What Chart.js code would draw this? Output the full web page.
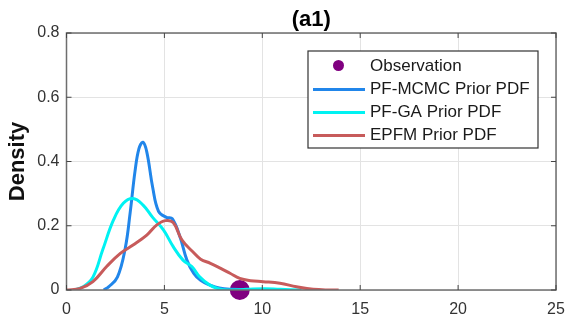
<!DOCTYPE html>
<html>
<head>
<meta charset="utf-8">
<script src="https://cdn.jsdelivr.net/npm/chart.js@4"></script>
<style>
  html, body { margin: 0; padding: 0; background: #fff; }
  #wrap { width: 567px; height: 325px; }
</style>
</head>
<body>
<div id="wrap"><canvas id="myChart" width="567" height="325"></canvas></div>
<script>
// Datos
const obsX = [8.85];
const obsY = [0];

const mcmcX = [1.9, 2.15, 2.6, 3.0, 3.25, 3.5, 3.7, 3.9, 4.1, 4.4, 4.7, 5.1, 5.4, 5.8, 6.15, 6.5, 6.85, 7.3, 7.8, 8.5, 9.5];
const mcmcY = [0, 0.01, 0.04, 0.13, 0.24, 0.37, 0.44, 0.46, 0.43, 0.32, 0.245, 0.226, 0.222, 0.165, 0.093, 0.052, 0.03, 0.016, 0.006, 0.002, 0];

const gaX = [0.4, 0.85, 1.35, 1.85, 2.4, 2.9, 3.4, 3.9, 4.4, 4.95, 5.45, 5.95, 6.4, 6.8, 7.3, 7.8, 8.3, 9.2, 10.1, 10.9, 12.0];
const gaY = [0, 0.01, 0.04, 0.125, 0.218, 0.27, 0.285, 0.265, 0.226, 0.187, 0.135, 0.093, 0.073, 0.041, 0.016, 0.003, 0, 0.002, 0.004, 0.002, 0];

const epfmX = [0, 0.7, 1.35, 2.05, 2.75, 3.4, 4.1, 4.6, 5.05, 5.45, 5.9, 6.45, 6.85, 7.35, 7.85, 8.35, 8.85, 9.4, 10.05, 10.9, 11.75, 12.6, 13.5, 13.9];
const epfmY = [0, 0.005, 0.026, 0.073, 0.114, 0.14, 0.171, 0.202, 0.216, 0.21, 0.155, 0.119, 0.096, 0.083, 0.068, 0.052, 0.036, 0.029, 0.026, 0.021, 0.01, 0.002, 0, 0];

const xTicks = [0, 5, 10, 15, 20, 25];
const yTicks = [0, 0.2, 0.4, 0.6, 0.8];

const toPoints = (xs, ys) => xs.map((x, i) => ({ x: x, y: ys[i] }));

// Caja estilo MATLAB con marcas hacia dentro + leyenda interior
const boxPlugin = {
    id: 'boxPlugin',
    afterDatasetsDraw(chart) {
        const { ctx, chartArea: a, scales } = chart;
        ctx.save();
        ctx.strokeStyle = '#6e6e6e';
        ctx.lineWidth = 1.5;
        ctx.strokeRect(a.left, a.top, a.right - a.left, a.bottom - a.top);
        ctx.lineWidth = 1;
        ctx.strokeStyle = '#444';
        xTicks.forEach(v => {
            const px = scales.x.getPixelForValue(v);
            ctx.beginPath();
            ctx.moveTo(px, a.bottom); ctx.lineTo(px, a.bottom - 5);
            ctx.moveTo(px, a.top); ctx.lineTo(px, a.top + 5);
            ctx.stroke();
        });
        yTicks.forEach(v => {
            const py = scales.y.getPixelForValue(v);
            ctx.beginPath();
            ctx.moveTo(a.left, py); ctx.lineTo(a.left + 5, py);
            ctx.moveTo(a.right, py); ctx.lineTo(a.right - 5, py);
            ctx.stroke();
        });

        // Leyenda
        const lx = 308, ly = 51, lw = 230, lh = 97;
        ctx.fillStyle = '#fff';
        ctx.fillRect(lx, ly, lw, lh);
        ctx.strokeStyle = '#333';
        ctx.lineWidth = 1.2;
        ctx.strokeRect(lx, ly, lw, lh);
        ctx.font = '17px "Liberation Sans", Arial, sans-serif';
        ctx.textBaseline = 'middle';
        ctx.textAlign = 'left';
        chart.data.datasets.forEach((ds, i) => {
            const cy = 66.5 + i * 23;
            if (ds.showLine === false) {
                ctx.fillStyle = ds.pointBackgroundColor;
                ctx.beginPath();
                ctx.arc(338.5, cy - 1, 5.5, 0, Math.PI * 2);
                ctx.fill();
            } else {
                ctx.strokeStyle = ds.borderColor;
                ctx.lineWidth = 3;
                ctx.beginPath();
                ctx.moveTo(313, cy); ctx.lineTo(365, cy);
                ctx.stroke();
            }
            ctx.fillStyle = '#1a1a1a';
            ctx.fillText(ds.label, 370, cy);
        });
        ctx.restore();
    }
};

const ctx = document.getElementById('myChart').getContext('2d');

new Chart(ctx, {
    type: 'line',
    data: {
        datasets: [
            {
                label: 'Observation',
                data: toPoints(obsX, obsY),
                showLine: false,
                pointRadius: 10,
                pointBackgroundColor: '#800080',
                pointBorderWidth: 0,
                clip: false,
                order: 3
            },
            {
                label: 'PF-MCMC Prior PDF',
                data: toPoints(mcmcX, mcmcY),
                borderColor: '#2186EA',
                borderWidth: 3,
                pointRadius: 0,
                tension: 0.4,
                order: 2
            },
            {
                label: 'PF-GA Prior PDF',
                data: toPoints(gaX, gaY),
                borderColor: '#00F2F2',
                borderWidth: 3,
                pointRadius: 0,
                tension: 0.4,
                order: 1
            },
            {
                label: 'EPFM Prior PDF',
                data: toPoints(epfmX, epfmY),
                borderColor: '#C75B5B',
                borderWidth: 3,
                pointRadius: 0,
                tension: 0.4,
                order: 0
            }
        ]
    },
    options: {
        responsive: false,
        animation: false,
        layout: { padding: { left: 0, right: 11, top: 0, bottom: 0 } },
        plugins: {
            legend: { display: false },
            tooltip: { enabled: false },
            title: {
                display: true,
                fullSize: false,
                text: '(a1)',
                color: '#000',
                font: { family: '"Liberation Sans", Arial, sans-serif', size: 22, weight: 'bold', lineHeight: 1.0 },
                padding: { top: 9, bottom: 2 }
            }
        },
        scales: {
            x: {
                type: 'linear',
                min: 0,
                max: 25,
                afterFit: scale => {
                    scale.height = 35;
                    scale.paddingLeft = 0;
                    scale.paddingRight = 0;
                },
                afterBuildTicks: scale => { scale.ticks = xTicks.map(v => ({ value: v })); },
                grid: { color: '#e3e3e3', drawTicks: false },
                border: { display: false },
                ticks: {
                    color: '#333',
                    padding: 10,
                    font: { family: '"Liberation Sans", Arial, sans-serif', size: 16 }
                }
            },
            y: {
                min: 0,
                max: 0.8,
                afterFit: scale => { scale.width = 66.5; },
                afterBuildTicks: scale => { scale.ticks = yTicks.map(v => ({ value: v })); },
                grid: { color: '#e3e3e3', drawTicks: false },
                border: { display: false },
                title: {
                    display: true,
                    text: 'Density',
                    color: '#111',
                    font: { family: '"Liberation Sans", Arial, sans-serif', size: 22, weight: 'bold' },
                    padding: { top: 5, bottom: 0 }
                },
                ticks: {
                    color: '#333',
                    padding: 7,
                    font: { family: '"Liberation Sans", Arial, sans-serif', size: 16 }
                }
            }
        }
    },
    plugins: [boxPlugin]
});
</script>
</body>
</html>
